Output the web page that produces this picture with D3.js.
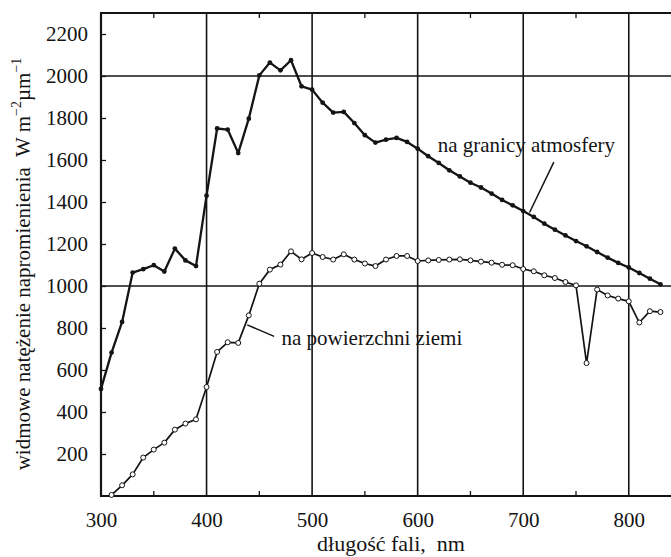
<!DOCTYPE html>
<html>
<head>
<meta charset="utf-8">
<script src="https://cdn.jsdelivr.net/npm/d3@7"></script>
<style>
    body { margin: 0; background: #ffffff; }
    svg { display: block; }
</style>
</head>
<body>
<svg id="drawing_region"></svg>
<script>
// wavelength [nm] and spectral irradiance [W m-2 um-1]
const top_wavelength = [300, 310, 320, 330, 340, 350, 360, 370, 380, 390,
                        400, 410, 420, 430, 440, 450, 460, 470, 480, 490,
                        500, 510, 520, 530, 540, 550, 560, 570, 580, 590,
                        600, 610, 620, 630, 640, 650, 660, 670, 680, 690,
                        700, 710, 720, 730, 740, 750, 760, 770, 780, 790,
                        800, 810, 820, 830];
const top_value = [510, 683, 829, 1064, 1080, 1099, 1069, 1178, 1122, 1095,
                   1430, 1750, 1745, 1633, 1797, 2003, 2064, 2027, 2075, 1951,
                   1935, 1873, 1826, 1829, 1776, 1718, 1683, 1697, 1705, 1686,
                   1654, 1618, 1586, 1551, 1522, 1492, 1469, 1440, 1410, 1384,
                   1357, 1329, 1297, 1268, 1241, 1214, 1189, 1162, 1135, 1110,
                   1088, 1062, 1035, 1008];

const ground_wavelength = [310, 320, 330, 340, 350, 360, 370, 380, 390,
                           400, 410, 420, 430, 440, 450, 460, 470, 480, 490,
                           500, 510, 520, 530, 540, 550, 560, 570, 580, 590,
                           600, 610, 620, 630, 640, 650, 660, 670, 680, 690,
                           700, 710, 720, 730, 740, 750, 760, 770, 780, 790,
                           800, 810, 820, 830];
const ground_value = [5, 51, 103, 183, 221, 254, 316, 345, 365,
                      519, 686, 732, 729, 860, 1011, 1078, 1102, 1165, 1127,
                      1157, 1138, 1126, 1151, 1126, 1107, 1095, 1126, 1143, 1143,
                      1119, 1122, 1124, 1126, 1127, 1122, 1116, 1111, 1101, 1099,
                      1081, 1070, 1051, 1038, 1019, 1003, 633, 983, 955, 940,
                      927, 826, 880, 876];

const x_ticks = [300, 400, 500, 600, 700, 800];
const x_minor_ticks = [350, 450, 550, 650, 750];
const x_grid = [400, 500, 600, 700, 800];
const y_ticks = [200, 400, 600, 800, 1000, 1200, 1400, 1600, 1800, 2000, 2200];
const y_grid = [1000, 2000];

const label_top = "na granicy atmosfery";
const label_ground = "na powierzchni ziemi";
const x_title = "długość fali,  nm";

const serif = '"Liberation Serif", "Times New Roman", "DejaVu Serif", serif';


class SpectrumChart {

    constructor( config ) {
        this.config = {
            parent: config.parent,
            width: config.width || 671,
            height: config.height || 557,
            margin: config.margin || {top:13, right:0, bottom:61, left:101}
        }
        this.init();
    }

    init() {
        let self = this;

        self.svg = d3.select( self.config.parent )
            .attr('width', self.config.width)
            .attr('height', self.config.height);

        self.chart = self.svg.append('g')
            .attr('transform', `translate(${self.config.margin.left}, ${self.config.margin.top})`);

        self.inner_width = self.config.width - self.config.margin.left - self.config.margin.right;
        self.inner_height = self.config.height - self.config.margin.top - self.config.margin.bottom;

        self.xscale = d3.scaleLinear()
            .domain([300, 840])
            .range([0, self.inner_width]);

        self.yscale = d3.scaleLinear()
            .domain([0, 2300])
            .range([self.inner_height, 0]);
    }

    render() {
        let self = this;
        const ink = '#141414';

        // grid lines
        self.chart.selectAll('.vgrid')
            .data(x_grid)
            .join('line')
            .attr('class', 'vgrid')
            .attr('x1', d => self.xscale(d)).attr('x2', d => self.xscale(d))
            .attr('y1', 0).attr('y2', self.inner_height)
            .attr('stroke', ink).attr('stroke-width', 1.6);

        self.chart.selectAll('.hgrid')
            .data(y_grid)
            .join('line')
            .attr('class', 'hgrid')
            .attr('x1', 0).attr('x2', self.inner_width)
            .attr('y1', d => self.yscale(d)).attr('y2', d => self.yscale(d))
            .attr('stroke', ink).attr('stroke-width', 1.6);

        // frame (top, left, bottom)
        self.chart.append('path')
            .attr('d', `M${self.inner_width},0H0V${self.inner_height}H${self.inner_width}`)
            .attr('fill', 'none').attr('stroke', ink).attr('stroke-width', 2.2);

        // axes with inward ticks
        const xaxis = d3.axisBottom( self.xscale )
            .tickValues(x_ticks)
            .tickSize(0)
            .tickPadding(16)
            .tickFormat(d3.format('d'));
        const xg = self.chart.append('g')
            .attr('transform', `translate(0, ${self.inner_height})`)
            .call(xaxis);
        xg.select('.domain').remove();
        xg.selectAll('text').attr('font-size', 21).attr('fill', ink);

        const yaxis = d3.axisLeft( self.yscale )
            .tickValues(y_ticks)
            .tickSize(-5)
            .tickPadding(13)
            .tickFormat(d3.format('d'));
        const yg = self.chart.append('g').call(yaxis);
        yg.select('.domain').remove();
        yg.selectAll('line').attr('stroke', ink).attr('stroke-width', 1.3);
        yg.selectAll('text').attr('font-size', 21).attr('fill', ink);

        self.chart.selectAll('.minor_bottom')
            .data(x_minor_ticks)
            .join('line')
            .attr('class', 'minor_bottom')
            .attr('x1', d => self.xscale(d)).attr('x2', d => self.xscale(d))
            .attr('y1', self.inner_height).attr('y2', self.inner_height - 5)
            .attr('stroke', ink).attr('stroke-width', 1.3);

        self.chart.selectAll('.minor_top')
            .data(x_minor_ticks)
            .join('line')
            .attr('class', 'minor_top')
            .attr('x1', d => self.xscale(d)).attr('x2', d => self.xscale(d))
            .attr('y1', 0).attr('y2', 5)
            .attr('stroke', ink).attr('stroke-width', 1.3);

        // curves
        const top_data = top_wavelength.map((w, i) => ({w: w, v: top_value[i]}));
        const ground_data = ground_wavelength.map((w, i) => ({w: w, v: ground_value[i]}));

        const line = d3.line()
            .x(d => self.xscale(d.w))
            .y(d => self.yscale(d.v));

        self.chart.append('path')
            .datum(top_data)
            .attr('d', line)
            .attr('fill', 'none').attr('stroke', ink).attr('stroke-width', 2.3)
            .attr('stroke-linejoin', 'round');

        self.chart.append('path')
            .datum(ground_data)
            .attr('d', line)
            .attr('fill', 'none').attr('stroke', ink).attr('stroke-width', 1.7)
            .attr('stroke-linejoin', 'round');

        self.chart.selectAll('.dot_top')
            .data(top_data)
            .join('circle')
            .attr('class', 'dot_top')
            .attr('cx', d => self.xscale(d.w))
            .attr('cy', d => self.yscale(d.v))
            .attr('r', 2.4)
            .attr('fill', ink);

        self.chart.selectAll('.dot_ground')
            .data(ground_data)
            .join('circle')
            .attr('class', 'dot_ground')
            .attr('cx', d => self.xscale(d.w))
            .attr('cy', d => self.yscale(d.v))
            .attr('r', 2.5)
            .attr('fill', '#ffffff')
            .attr('stroke', ink).attr('stroke-width', 1);

        // annotations
        self.chart.append('text')
            .attr('x', self.xscale(619)).attr('y', self.yscale(1640))
            .attr('font-size', 21)
            .text(label_top);
        self.chart.append('line')
            .attr('x1', self.xscale(729)).attr('y1', self.yscale(1590))
            .attr('x2', self.xscale(706)).attr('y2', self.yscale(1350))
            .attr('stroke', ink).attr('stroke-width', 1.5);

        self.chart.append('text')
            .attr('x', self.xscale(471)).attr('y', self.yscale(720))
            .attr('font-size', 21)
            .text(label_ground);
        self.chart.append('line')
            .attr('x1', self.xscale(464)).attr('y1', self.yscale(760))
            .attr('x2', self.xscale(438.5)).attr('y2', self.yscale(815))
            .attr('stroke', ink).attr('stroke-width', 1.5);

        // axis titles
        self.svg.append('text')
            .attr('x', 391).attr('y', 551)
            .attr('text-anchor', 'middle')
            .attr('font-size', 22)
            .attr('xml:space', 'preserve')
            .text(x_title);

        const ytitle = self.svg.append('text')
            .attr('transform', 'translate(30, 264) rotate(-90)')
            .attr('text-anchor', 'middle')
            .attr('font-size', 21)
            .attr('xml:space', 'preserve');
        ytitle.append('tspan').text('widmowe natężenie napromienienia  W m');
        ytitle.append('tspan').attr('dy', -9).attr('font-size', 14).text('−2');
        ytitle.append('tspan').attr('dy', 9).text('µm');
        ytitle.append('tspan').attr('dy', -9).attr('font-size', 14).text('−1');

        self.svg.selectAll('text')
            .style('font-family', serif)
            .style('fill', ink);
    }
}

const chart = new SpectrumChart({
    parent: '#drawing_region',
    width: 671,
    height: 557,
    margin: {top:13, right:0, bottom:61, left:101}
});
chart.render();
</script>
</body>
</html>
